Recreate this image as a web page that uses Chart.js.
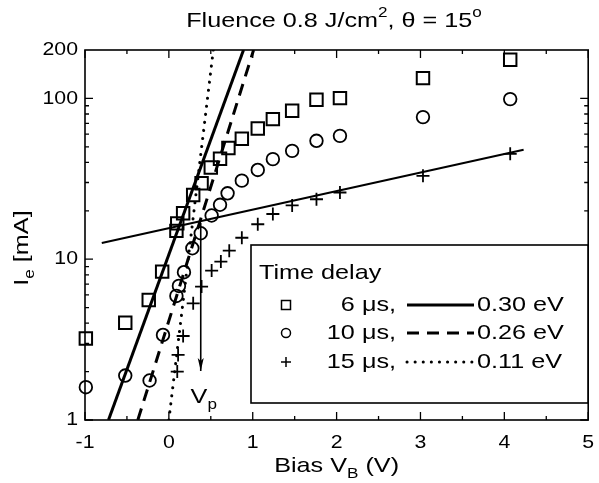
<!DOCTYPE html>
<html>
<head>
<meta charset="utf-8">
<script src="https://cdn.jsdelivr.net/npm/chart.js@4.4.1/dist/chart.umd.min.js"></script>
<style>
  body { margin: 0; background: #fff; }
  canvas { display: block; }
</style>
</head>
<body>
<canvas id="chart" width="599" height="483"></canvas>
<script>
// 측정 데이터 (Bias V, Ie mA)
const sqX = [4.07, 3.03, 2.04, 1.76, 1.47, 1.24, 1.06, 0.87, 0.71, 0.61, 0.50, 0.39, 0.29, 0.17, 0.10, 0.09, -0.08, -0.24, -0.52, -0.99];
const sqY = [174, 133.7, 100.4, 98, 83.7, 74.3, 65, 56.1, 49.1, 42.1, 37.2, 29.7, 25.1, 19.3, 16.7, 15.0, 8.37, 5.58, 4.03, 3.21];

const ciX = [4.07, 3.03, 2.04, 1.76, 1.47, 1.24, 1.06, 0.87, 0.70, 0.61, 0.51, 0.38, 0.28, 0.18, 0.12, 0.09, -0.07, -0.23, -0.52, -0.99];
const ciY = [99, 76.5, 58.5, 54.5, 47.2, 41.9, 35.9, 30.8, 25.7, 21.8, 18.7, 14.5, 11.7, 8.30, 6.82, 5.91, 3.38, 1.76, 1.89, 1.60];

const plX = [4.07, 3.03, 2.04, 1.76, 1.47, 1.24, 1.06, 0.87, 0.72, 0.62, 0.51, 0.39, 0.29, 0.17, 0.11, 0.10];
const plY = [45.2, 33.0, 26.0, 23.6, 21.6, 19.1, 16.5, 13.6, 11.3, 9.66, 8.5, 6.76, 5.32, 3.33, 2.54, 2.0];

// 피팅 직선 (끝점)
const fit030 = [[-0.72, 1], [0.89, 200]];
const fit026 = [[-0.37, 1], [1.01, 200]];
const fit011 = [[0.0, 1], [0.53, 200]];
const satLine = [[-0.80, 12.6], [4.23, 48]];
const vpArrow = [[0.38, 16.8], [0.38, 2.02]];

// 축 눈금
const xTicks = [-1, 0, 1, 2, 3, 4, 5];
const xMinor = [-0.5, 0.5, 1.5, 2.5, 3.5, 4.5];
const yTicks = [1, 10, 100, 200];
const yMajor = [1, 10, 100];
const yMinor = [2, 3, 4, 5, 6, 7, 8, 9, 20, 30, 40, 50, 60, 70, 80, 90];

const FONT = '"Liberation Sans", Arial, Helvetica, sans-serif';
const SX = 1.2;  // 글자 가로 비율

const pts = (xs, ys) => xs.map((x, i) => ({ x: x, y: ys[i] }));
const seg = (arr) => arr.map(p => ({ x: p[0], y: p[1] }));

// 아래첨자/위첨자 섞인 텍스트
function runs(ctx, parts, x, y, size, align, sx) {
    sx = sx || SX;
    ctx.save();
    let w = 0;
    parts.forEach(p => {
        const s = p.sub || p.sup ? size * 0.68 : size;
        ctx.font = s + 'px ' + FONT;
        p._w = ctx.measureText(p.t).width;
        p._s = s;
        w += p._w;
    });
    ctx.translate(x, y);
    ctx.scale(sx, 1);
    let cx = align === 'center' ? -w / 2 : (align === 'right' ? -w : 0);
    ctx.textBaseline = 'middle';
    ctx.textAlign = 'left';
    ctx.fillStyle = '#000';
    parts.forEach(p => {
        ctx.font = p._s + 'px ' + FONT;
        let dy = 0;
        if (p.sub) dy = size * 0.38;
        if (p.sup) dy = -size * 0.38;
        ctx.fillText(p.t, cx, dy);
        cx += p._w;
    });
    ctx.restore();
}

const decor = {
    id: 'decor',
    afterDraw(chart) {
        const ctx = chart.ctx;
        const a = chart.chartArea;
        const xs = chart.scales.x, ys = chart.scales.y;
        ctx.save();
        ctx.strokeStyle = '#000';
        ctx.lineWidth = 1.6;
        ctx.strokeRect(a.left, a.top, a.right - a.left, a.bottom - a.top);

        // 안쪽 눈금
        ctx.lineWidth = 1.3;
        ctx.beginPath();
        xTicks.concat(xMinor).forEach(v => {
            const px = xs.getPixelForValue(v);
            const len = xTicks.includes(v) ? 8 : 4;
            ctx.moveTo(px, a.bottom); ctx.lineTo(px, a.bottom - len);
            ctx.moveTo(px, a.top); ctx.lineTo(px, a.top + len);
        });
        yMajor.concat(yMinor).forEach(v => {
            const py = ys.getPixelForValue(v);
            const len = yMajor.includes(v) ? 8 : 4;
            ctx.moveTo(a.left, py); ctx.lineTo(a.left + len, py);
            ctx.moveTo(a.right, py); ctx.lineTo(a.right - len, py);
        });
        ctx.stroke();

        // 눈금 라벨
        xTicks.forEach(v => {
            runs(ctx, [{ t: String(v) }], xs.getPixelForValue(v), a.bottom + 23, 19, 'center', 1.12);
        });
        yTicks.forEach(v => {
            runs(ctx, [{ t: String(v) }], a.left - 7, ys.getPixelForValue(v), 19, 'right', 1.12);
        });

        // 제목, 축 제목
        runs(ctx, [{ t: 'Fluence 0.8 J/cm' }, { t: '2', sup: true }, { t: ', \u03b8 = 15' }, { t: 'o', sup: true }],
            334, 21, 21, 'center');
        runs(ctx, [{ t: 'Bias V' }, { t: 'B', sub: true }, { t: ' (V)' }], (a.left + a.right) / 2, 466, 21, 'center');
        ctx.save();
        ctx.translate(22, 248);
        ctx.rotate(-Math.PI / 2);
        runs(ctx, [{ t: 'I' }, { t: 'e', sub: true }, { t: ' [mA]' }], 0, 0, 21, 'center');
        ctx.restore();

        // 화살표 머리 + Vp
        const ax = xs.getPixelForValue(vpArrow[1][0]);
        const ay = ys.getPixelForValue(vpArrow[1][1]);
        ctx.fillStyle = '#000';
        ctx.beginPath();
        ctx.moveTo(ax, ay);
        ctx.lineTo(ax - 3, ay - 13);
        ctx.lineTo(ax, ay - 10);
        ctx.lineTo(ax + 3, ay - 13);
        ctx.closePath();
        ctx.fill();
        runs(ctx, [{ t: 'V' }, { t: 'p', sub: true }], ax + 3, ys.getPixelForValue(1.39), 21, 'center');

        // 범례
        const L = 251, T = 245, R = 588, B = 403;
        ctx.fillStyle = '#fff';
        ctx.fillRect(L, T, R - L, B - T);
        ctx.lineWidth = 1.6;
        ctx.strokeRect(L, T, R - L, B - T);
        runs(ctx, [{ t: 'Time delay' }], L + 8, 273, 21, 'left');
        const rows = [
            { y: 305, d: '6 \u03bcs,', e: '0.30 eV', dash: [], cap: 'butt', m: 'sq' },
            { y: 333, d: '10 \u03bcs,', e: '0.26 eV', dash: [12, 8], cap: 'butt', m: 'ci' },
            { y: 362, d: '15 \u03bcs,', e: '0.11 eV', dash: [0.1, 8], cap: 'round', m: 'pl' }
        ];
        rows.forEach(r => {
            ctx.strokeStyle = '#000';
            ctx.lineWidth = 1.5;
            ctx.setLineDash([]);
            ctx.beginPath();
            if (r.m === 'sq') ctx.rect(286 - 4.5, r.y - 4.5, 9, 9);
            if (r.m === 'ci') ctx.arc(286, r.y, 4.5, 0, Math.PI * 2);
            if (r.m === 'pl') { ctx.moveTo(281, r.y); ctx.lineTo(291, r.y); ctx.moveTo(286, r.y - 5); ctx.lineTo(286, r.y + 5); }
            ctx.stroke();
            runs(ctx, [{ t: r.d }], 396, r.y, 21, 'right');
            ctx.lineWidth = 3;
            ctx.lineCap = r.cap;
            ctx.setLineDash(r.dash);
            ctx.beginPath();
            ctx.moveTo(407, r.y); ctx.lineTo(474, r.y);
            ctx.stroke();
            ctx.setLineDash([]);
            ctx.lineCap = 'butt';
            runs(ctx, [{ t: r.e }], 477, r.y, 21, 'left');
        });
        ctx.restore();
    }
};

const lineDs = (data, width, dash, cap) => ({
    data: seg(data),
    showLine: true,
    pointRadius: 0,
    borderColor: '#000',
    borderWidth: width,
    borderDash: dash,
    borderCapStyle: cap || 'butt',
    fill: false
});

new Chart(document.getElementById('chart'), {
    type: 'scatter',
    plugins: [decor],
    data: {
        datasets: [
            lineDs(fit030, 3, []),
            lineDs(fit026, 3, [12, 8]),
            lineDs(fit011, 3, [0.1, 8], 'round'),
            lineDs(satLine, 2, []),
            lineDs(vpArrow, 1.6, []),
            {
                data: pts(sqX, sqY), pointStyle: 'rect', pointRadius: 8.8,
                borderColor: '#000', backgroundColor: 'rgba(0,0,0,0)', pointBorderWidth: 2, clip: false
            },
            {
                data: pts(ciX, ciY), pointStyle: 'circle', pointRadius: 6.3,
                borderColor: '#000', backgroundColor: 'rgba(0,0,0,0)', pointBorderWidth: 1.8, clip: false
            },
            {
                data: pts(plX, plY), pointStyle: 'cross', pointRadius: 6.5,
                borderColor: '#000', backgroundColor: 'rgba(0,0,0,0)', pointBorderWidth: 1.8, clip: false
            }
        ]
    },
    options: {
        responsive: false,
        animation: false,
        devicePixelRatio: 1,
        layout: { padding: { left: 85, right: 7, top: 50, bottom: 63 } },
        plugins: {
            legend: { display: false },
            tooltip: { enabled: false },
            title: { display: false }
        },
        scales: {
            x: { type: 'linear', min: -1, max: 5, display: false },
            y: { type: 'logarithmic', min: 1, max: 200, display: false }
        }
    }
});
</script>
</body>
</html>
